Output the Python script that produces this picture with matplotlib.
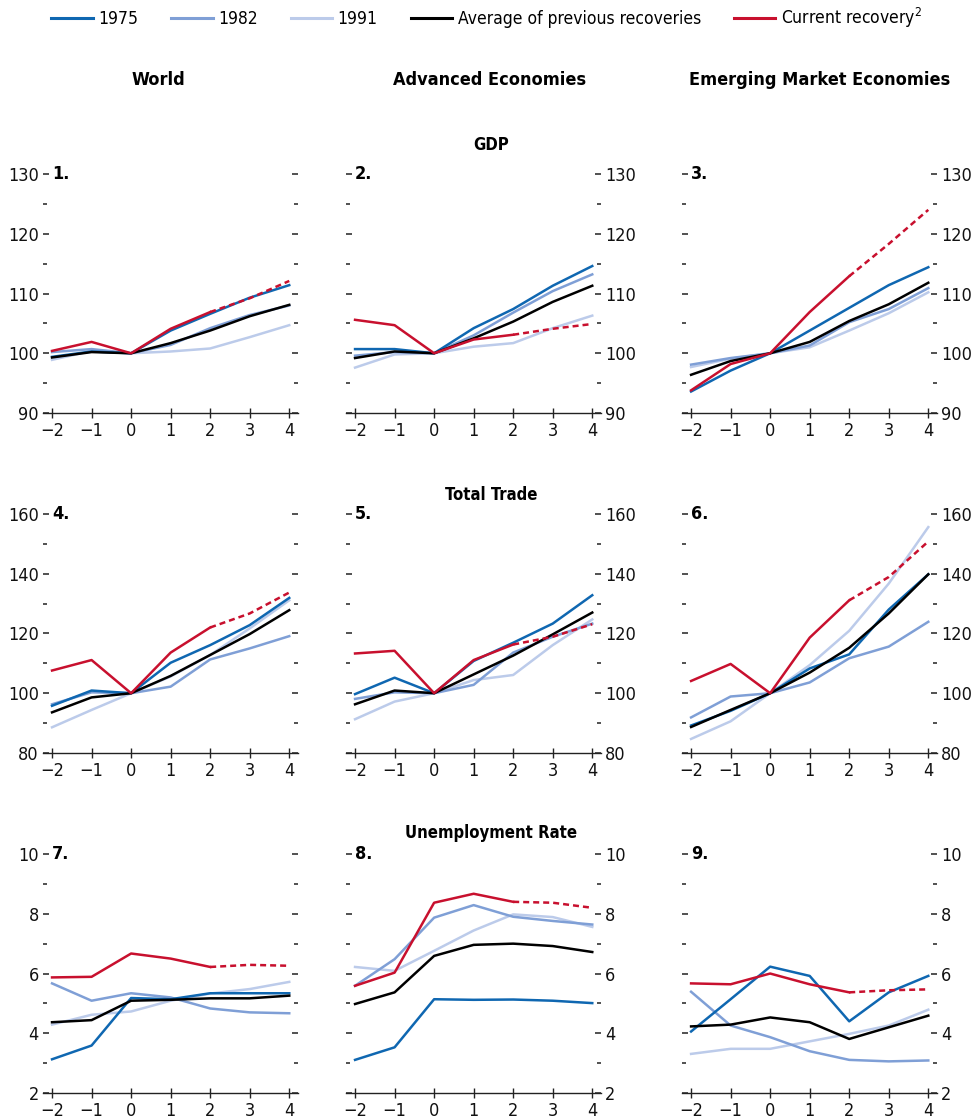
import matplotlib.pyplot as plt
from matplotlib.ticker import MultipleLocator
from matplotlib.lines import Line2D

plt.rcParams['font.family'] = ['DejaVu Sans']
plt.rcParams['font.stretch'] = 'condensed'
plt.rcParams['font.size'] = 12

years = [-2, -1, 0, 1, 2, 3, 4]
series = ['1975', '1982', '1991', 'Average of previous recoveries', 'Current recovery']
colors = {'1975': '#0f67b1', '1982': '#7f9fd6', '1991': '#bccbea',
          'Average of previous recoveries': '#000000', 'Current recovery': '#c8102e'}

# GDP (t=0 = 100)
gdp_world = {'1975': [99.4, 100.3, 100, 103.8, 106.6, 109.3, 111.4],
             '1982': [100.2, 100.7, 100, 101.4, 104.2, 106.4, 108.0],
             '1991': [98.9, 100.4, 100, 100.3, 100.8, 102.7, 104.7],
             'Average of previous recoveries': [99.3, 100.2, 100, 101.7, 103.8, 106.2, 108.1],
             'Current recovery': [100.4, 101.9, 100, 104.1, 106.9, 109.2, 112.1]}
gdp_adv = {'1975': [100.7, 100.7, 100, 104.2, 107.4, 111.3, 114.6],
           '1982': [99.6, 100.2, 100, 103.0, 106.8, 110.4, 113.2],
           '1991': [97.6, 99.8, 100, 101.1, 101.7, 104.2, 106.3],
           'Average of previous recoveries': [99.2, 100.3, 100, 102.5, 105.3, 108.6, 111.3],
           'Current recovery': [105.6, 104.7, 100, 102.3, 103.1, 104.1, 104.9]}
gdp_em = {'1975': [93.6, 97.1, 100, 103.8, 107.6, 111.4, 114.4],
          '1982': [98.1, 99.2, 100, 101.3, 105.2, 107.4, 110.9],
          '1991': [97.7, 99.1, 100, 101.0, 103.8, 106.7, 110.2],
          'Average of previous recoveries': [96.4, 98.7, 100, 101.9, 105.4, 108.2, 111.8],
          'Current recovery': [93.8, 98.2, 100, 106.9, 112.9, 118.3, 124.0]}

# Total trade
trade_world = {'1975': [95.8, 100.9, 100, 110.2, 116.1, 122.8, 131.9],
               '1982': [96.3, 100.3, 100, 102.2, 111.3, 115.0, 119.1],
               '1991': [88.6, 94.4, 100, 105.6, 112.8, 121.7, 131.1],
               'Average of previous recoveries': [93.6, 98.6, 100, 105.8, 112.8, 119.8, 127.8],
               'Current recovery': [107.6, 111.1, 100, 113.6, 122.0, 126.7, 133.7]}
trade_adv = {'1975': [99.7, 105.2, 100, 110.8, 116.9, 123.3, 132.8],
             '1982': [98.1, 100.3, 100, 102.8, 113.6, 118.9, 123.3],
             '1991': [91.3, 97.2, 100, 104.4, 106.1, 116.1, 124.7],
             'Average of previous recoveries': [96.3, 100.9, 100, 106.3, 112.6, 119.7, 127.0],
             'Current recovery': [113.3, 114.2, 100, 111.1, 116.3, 118.9, 123.1]}
trade_em = {'1975': [89.2, 94.1, 100, 108.3, 113.0, 128.0, 139.8],
            '1982': [91.9, 98.9, 100, 103.6, 111.7, 115.6, 123.9],
            '1991': [84.7, 90.6, 100, 109.4, 120.9, 136.7, 155.6],
            'Average of previous recoveries': [88.7, 94.4, 100, 106.9, 115.2, 126.7, 139.8],
            'Current recovery': [104.1, 109.8, 100, 118.6, 131.1, 138.9, 150.8]}

# Unemployment rate
unemp_world = {'1975': [3.13, 3.59, 5.18, 5.14, 5.34, 5.34, 5.34],
               '1982': [5.67, 5.09, 5.34, 5.20, 4.83, 4.70, 4.67],
               '1991': [4.29, 4.62, 4.73, 5.09, 5.33, 5.48, 5.72],
               'Average of previous recoveries': [4.37, 4.44, 5.09, 5.12, 5.17, 5.17, 5.26],
               'Current recovery': [5.87, 5.89, 6.67, 6.50, 6.22, 6.29, 6.26]}
unemp_adv = {'1975': [3.11, 3.53, 5.14, 5.12, 5.13, 5.09, 5.01],
             '1982': [5.59, 6.48, 7.87, 8.29, 7.90, 7.76, 7.64],
             '1991': [6.22, 6.09, 6.76, 7.44, 7.98, 7.89, 7.56],
             'Average of previous recoveries': [4.98, 5.37, 6.59, 6.96, 7.00, 6.92, 6.72],
             'Current recovery': [5.59, 6.03, 8.37, 8.67, 8.40, 8.37, 8.20]}
unemp_em = {'1975': [4.06, 5.14, 6.23, 5.92, 4.40, 5.37, 5.92],
            '1982': [5.39, 4.26, 3.87, 3.40, 3.11, 3.06, 3.09],
            '1991': [3.31, 3.48, 3.48, 3.73, 3.98, 4.26, 4.79],
            'Average of previous recoveries': [4.23, 4.29, 4.53, 4.37, 3.81, 4.20, 4.59],
            'Current recovery': [5.67, 5.64, 6.00, 5.64, 5.37, 5.44, 5.47]}

panels = [[gdp_world, gdp_adv, gdp_em],
          [trade_world, trade_adv, trade_em],
          [unemp_world, unemp_adv, unemp_em]]
ylims = [(90, 130, 10, 5), (80, 160, 20, 10), (2, 10, 2, 1)]
proj_start = 4  # index of year 2: projections after this

fig = plt.figure(figsize=(9.74, 11.19), dpi=100)
lefts = [0.0441, 0.3552, 0.7002]
bottoms = [0.6309, 0.3271, 0.0232]
w, h = 0.2618, 0.2136
dark = '#222222'

n = 1
for r in range(3):
    for c in range(3):
        ax = fig.add_axes([lefts[c], bottoms[r], w, h])
        data = panels[r][c]
        for s in ['1991', '1982', '1975', 'Average of previous recoveries']:
            ax.plot(years, data[s], color=colors[s], lw=1.8)
        cur = data['Current recovery']
        ax.plot(years[:proj_start + 1], cur[:proj_start + 1], color=colors['Current recovery'], lw=1.8)
        ax.plot(years[proj_start:], cur[proj_start:], color=colors['Current recovery'], lw=1.8,
                linestyle=(0, (2.4, 1.6)))
        lo, hi, maj, mnr = ylims[r]
        ax.set_ylim(lo, hi)
        ax.set_xlim(-2.23, 4.22)
        ax.set_xticks(years)
        ax.set_xticklabels([str(v).replace('-', '\u2212') for v in years])
        ax.yaxis.set_major_locator(MultipleLocator(maj))
        ax.yaxis.set_minor_locator(MultipleLocator(mnr))
        for sp in ['top', 'left', 'right']:
            ax.spines[sp].set_visible(False)
        ax.spines['bottom'].set_color(dark)
        ax.spines['bottom'].set_linewidth(1.0)
        ax.tick_params(axis='x', direction='inout', length=7, width=1, color=dark,
                       labelsize=13, pad=3, labelcolor='#111111')
        ax.tick_params(axis='y', which='major', direction='in', length=4.5, width=1.1,
                       color=dark, left=True, right=True, labelsize=13, pad=3,
                       labelcolor='#111111')
        ax.tick_params(axis='y', which='minor', direction='in', length=2.6, width=1.1,
                       color=dark, left=True, right=True)
        if c == 0:
            ax.tick_params(axis='y', labelleft=True, labelright=False)
        else:
            ax.tick_params(axis='y', labelleft=False, labelright=True)
        ax.text(-2.0, hi, f'{n}.', fontsize=13, fontweight='bold', ha='left', va='center')
        n += 1

col_titles = ['World', 'Advanced Economies', 'Emerging Market Economies']
col_x = [158, 490, 820]
for t, xp in zip(col_titles, col_x):
    fig.text(xp / 974, 1 - 80 / 1119, t, ha='center', va='center', fontsize=13, fontweight='bold')

row_titles = ['GDP', 'Total Trade', 'Unemployment Rate']
row_y = [145, 495, 833]
for t, yp in zip(row_titles, row_y):
    fig.text(491 / 974, 1 - yp / 1119, t, ha='center', va='center', fontsize=12, fontweight='bold')

handles = [Line2D([], [], color=colors[s], lw=2.2) for s in series]
labels = ['1975', '1982', '1991', 'Average of previous recoveries',
          r'Current recovery$^{\mathregular{2}}$']
fig.legend(handles, labels, loc='center', bbox_to_anchor=(0.4995, 1 - 18 / 1119), ncol=5,
           frameon=False, fontsize=12.5, handlelength=2.4, handletextpad=0.3,
           columnspacing=1.9, borderpad=0)

fig.savefig('out.png', dpi=100)
